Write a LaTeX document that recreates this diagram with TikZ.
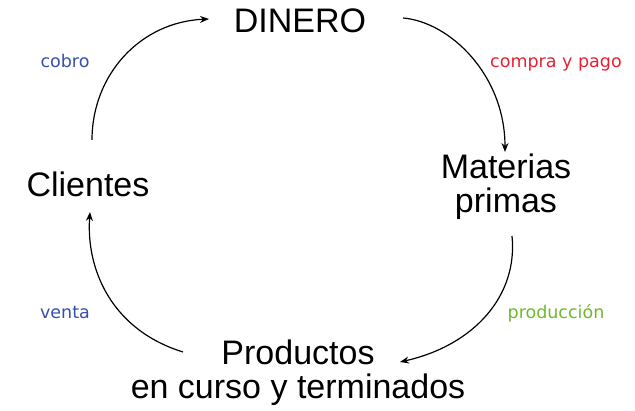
\documentclass[tikz,border=0pt]{standalone}
\usepackage{fontspec}
\setmainfont{Liberation Sans}
\newfontfamily\labfont{DejaVu Sans}
\usetikzlibrary{arrows.meta}
\definecolor{lblue}{RGB}{55,80,170}
\definecolor{lred}{RGB}{232,32,48}
\definecolor{lgreen}{RGB}{110,185,45}
\tikzset{
  big/.style={inner sep=0pt, font=\fontsize{34}{34}\selectfont, align=center, anchor=base},
  lab/.style={inner sep=0pt, font=\labfont\fontsize{17.5}{20}\selectfont, anchor=base},
  flow/.style={line width=1.2pt, -{Stealth[length=9pt,width=7pt]}}
}
\begin{document}
\begin{tikzpicture}[x=1pt,y=-1pt]
\useasboundingbox (0,0) rectangle (635,411);
\node[big] (dinero) at (300,33) {DINERO};
\node[big] (clientes) at (88,197) {Clientes};
\node[big] (materias) at (506,213) {Materias\\primas};
\node[big] (productos) at (298,399) {Productos\\en curso y terminados};
\node[lab, text=lblue] (cobro) at (65,68) {cobro};
\node[lab, text=lred] (compra) at (556,68) {compra y pago};
\node[lab, text=lgreen] (produccion) at (556,319) {producción};
\node[lab, text=lblue] (venta) at (65,319) {venta};
\coordinate (c1) at (92,140);
\coordinate (d1) at (209,19);
\coordinate (d2) at (403,18);
\coordinate (m1) at (505,152);
\coordinate (m2) at (512,236);
\coordinate (p1) at (400,362);
\coordinate (p2) at (183,352);
\coordinate (c2) at (90,212);
\draw[flow] (c1) .. controls (92,75) and (140,22) .. (d1);
\draw[flow] (d2) .. controls (450,22) and (505,75) .. (m1);
\draw[flow] (m2) .. controls (518,295) and (475,345) .. (p1);
\draw[flow] (p2) .. controls (112,330) and (86,270) .. (c2);
\end{tikzpicture}
\end{document}
